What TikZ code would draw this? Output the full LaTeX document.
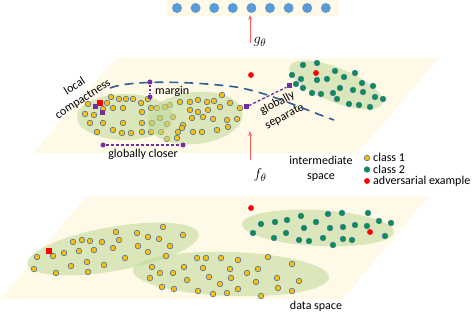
\documentclass[tikz,border=0pt]{standalone}
\usepackage{fontspec}
\usepackage{graphicx}
\setmainfont{Carlito}
\usetikzlibrary{arrows.meta,positioning}
\definecolor{planecol}{RGB}{255,249,231}
\definecolor{blobgreen}{RGB}{190,218,150}
\definecolor{dotyellow}{RGB}{255,192,0}
\definecolor{dotgreen}{RGB}{0,150,70}
\definecolor{dotedge}{RGB}{70,110,170}
\definecolor{advred}{RGB}{255,0,0}
\definecolor{markpurple}{RGB}{112,48,160}
\definecolor{curveblue}{RGB}{46,95,150}
\definecolor{barblue}{RGB}{91,155,213}
\definecolor{arrowred}{RGB}{255,90,90}

\tikzset{
  cone/.style={circle,fill=dotyellow,draw=dotedge,line width=0.6pt,inner sep=0pt,minimum size=5.6pt},
  ctwo/.style={circle,fill=dotgreen,draw=dotedge,line width=0.6pt,inner sep=0pt,minimum size=5.6pt},
  adv/.style={circle,fill=advred,inner sep=0pt,minimum size=5.8pt},
  advsq/.style={rectangle,fill=advred,inner sep=0pt,minimum size=5.5pt},
  pmark/.style={rectangle,fill=markpurple,inner sep=0pt,minimum size=5pt},
  pdot/.style={circle,fill=markpurple,inner sep=0pt,minimum size=5pt},
  barcirc/.style={circle,fill=barblue,inner sep=0pt,minimum size=10pt},
  blob/.style={fill=blobgreen,fill opacity=0.55},
  guide/.style={draw=markpurple,line width=1.3pt,dash pattern=on 3pt off 2pt},
  boundary/.style={draw=curveblue,line width=1.6pt,dash pattern=on 9pt off 6pt},
  mapping/.style={draw=arrowred,line width=0.7pt,-{Stealth[length=5pt,width=3.5pt]}},
  lbl/.style={font=\fontsize{12}{15}\selectfont,align=center,inner sep=0pt},
  mlbl/.style={font=\fontsize{15}{15}\selectfont,inner sep=0pt}
}

\begin{document}
\begin{tikzpicture}[x=1pt,y=-1pt]
  \useasboundingbox (0,0) rectangle (472,312);
  % output layer
  \fill[planecol] (166,0) rectangle (339,16);
  \foreach \i in {0,...,8}
    \node[barcirc] (h\i) at ({177+\i*18.6},8) {};

  % intermediate space
  \fill[planecol] (116,58) -- (439,58) -- (358,153) -- (33,153) -- cycle;
  \fill[blob] (125,117) ellipse[x radius=48,y radius=23];
  \foreach \x/\y [count=\k] in {111/97,119/99,126/99,133/99,141/103,148/99,88/104,107/103,113/108,123/108,
      103/109,85/114,94/115,142/112,151/108,157/108,165/107,170/105,90/123,103/123,123/123,142/123,
      152/123,160/118,167/124,173/117,97/132,113/130,122/133,131/133,142/132,151/132,161/132,167/139}
    \node[cone] (a\k) at (\x,\y) {};
  \fill[blob,rotate around={6:(195,118)}] (195,118) ellipse[x radius=48,y radius=26];
  \foreach \x/\y [count=\k] in {178/132,177/138,183/125,180/102,190/102,198/100,207/102,214/101,222/95,
      190/110,198/112,208/110,220/107,230/103,240/108,192/118,203/117,213/119,227/120,182/128,
      193/132,202/132,217/130,228/127,237/119}
    \node[cone] (b\k) at (\x,\y) {};
  \fill[blob,rotate around={-22:(336,85)}] (336,85) ellipse[x radius=50,y radius=17];
  \foreach \x/\y [count=\k] in {303/65,317/63,292/75,301/79,317/80,327/79,335/71,344/77,355/73,296/84,
      303/88,312/93,321/94,333/93,340/88,353/90,362/83,363/92,373/86,337/99,349/104,359/105,
      370/107,375/97,383/99}
    \node[ctwo] (g\k) at (\x,\y) {};
  \node[adv] (r1) at (316,73) {};
  \node[adv] (r2) at (251,75) {};

  % decision boundary
  \draw[boundary] (110,88) .. controls (130,80) and (190,81) .. (236,87)
    .. controls (270,93) and (300,108) .. (334,120);

  % local compactness
  \node[advsq] (q0) at (100,103) {};
  \node[pmark] (q1) at (95,107) {};
  \node[pmark] (q2) at (102,113) {};
  \node[lbl] (loc) at (79,93) {\rotatebox{33}{\begin{tabular}{@{}c@{}}local\\compactness\end{tabular}}};

  % margin
  \node[pdot] (mtop) at (150,82) {};
  \node[pdot] (mbot) at (150,97) {};
  \draw[markpurple,line width=1.2pt,dash pattern=on 2pt off 2pt] (mtop) -- (mbot);
  \node[lbl,anchor=west] (mlab) at (155,91) {margin};

  % globally closer
  \node[pdot] (cl) at (103,145) {};
  \node[pdot] (cr) at (183,145) {};
  \draw[guide] (cl) -- (cr);
  \node[lbl] (clab) at (143,154) {globally closer};

  % globally separate
  \node[pmark] (sl) at (246,107) {};
  \node[pmark] (sr) at (289,86) {};
  \draw[guide] (sl) -- (sr);
  \node[lbl] (slab) at (281,110) {\rotatebox{28}{\begin{tabular}{@{}c@{}}globally\\separate\end{tabular}}};

  % mappings
  \coordinate (gtail) at (250,43);
  \coordinate (gtip) at (250,15);
  \draw[mapping] (gtail) -- (gtip);
  \node[mlbl] (glab) at (260,42) {$g_\theta$};
  \coordinate (ftail) at (250,160);
  \coordinate (ftip) at (250,131);
  \draw[mapping] (ftail) -- (ftip);
  \node[mlbl] (flab) at (260,175) {$f_\theta$};
  \node[lbl] (ilab) at (321,169) {intermediate\\space};

  % legend
  \node[cone] (k1) at (367,158) {};
  \node[lbl,anchor=west] (k1t) at (373,157) {class 1};
  \node[ctwo] (k2) at (367,169.5) {};
  \node[lbl,anchor=west] (k2t) at (373,169) {class 2};
  \node[adv] (k3) at (367,181) {};
  \node[lbl,anchor=west] (k3t) at (373,181) {adversarial example};

  % data space
  \fill[planecol] (86,197) -- (428,197) -- (343,299) -- (0,299) -- cycle;
  \fill[blob,rotate around={10:(113,249)}] (113,249) ellipse[x radius=87,y radius=22];
  \fill[blob,rotate around={-2:(231,274)}] (231,274) ellipse[x radius=98,y radius=22];
  \fill[blob,rotate around={-3:(318,228)}] (318,228) ellipse[x radius=76,y radius=18];
  \foreach \x/\y [count=\k] in {163/227,116/232,137/233,183/235,148/237,159/239,119/240,73/242,82/240,
      90/241,102/242,138/246,170/246,113/248,94/250,79/251,148/252,64/253,53/256,37/257,125/258,
      166/256,87/262,71/266,104/265,34/269,56/273,88/272}
    \node[cone] (c\k) at (\x,\y) {};
  \foreach \x/\y [count=\k] in {197/258,206/258,221/258,152/267,184/267,203/268,230/269,160/273,173/273,
      150/278,187/280,209/277,231/278,220/284,162/287,174/289,198/291,213/294,227/293,268/257,
      238/260,258/269,247/273,292/264,277/278,256/282,299/281,238/289,278/288,292/291,261/296}
    \node[cone] (d\k) at (\x,\y) {};
  \foreach \x/\y [count=\k] in {301/216,328/214,342/213,368/213,261/224,275/222,287/220,316/222,304/228,
      330/228,343/227,355/225,367/226,379/221,391/223,253/233,286/233,274/238,299/240,309/241,
      323/238,343/239,352/240,333/245,385/236}
    \node[ctwo] (e\k) at (\x,\y) {};
  \node[advsq] (r3) at (49,251) {};
  \node[adv] (r4) at (370,232) {};
  \node[adv] (r5) at (251,208) {};
  \node[lbl] (dlab) at (316,306) {data space};
\end{tikzpicture}
\end{document}
